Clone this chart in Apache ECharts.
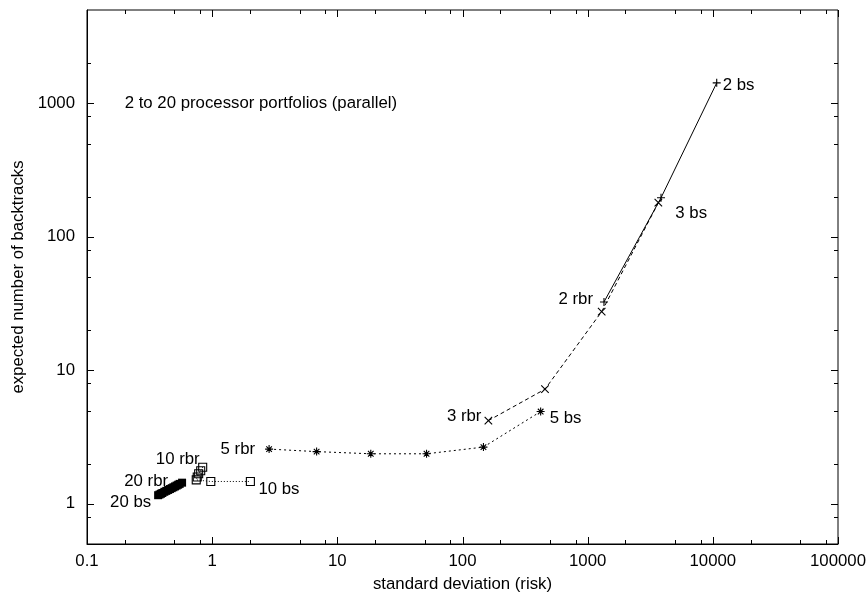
<!DOCTYPE html>
<html>
<head>
<meta charset="utf-8">
<title>Processor portfolios: risk vs. backtracks</title>
<script src="https://cdn.jsdelivr.net/npm/echarts@6/dist/echarts.min.js"></script>
<style>
  html, body { margin: 0; padding: 0; background: #fff; }
  #chart { width: 867px; height: 599px; }
</style>
</head>
<body>
<div id="chart"></div>
<script>
// ---- axis ranges and tick values ----
const X_MIN = 0.1, X_MAX = 100000;
const Y_MIN = 0.5, Y_MAX = 5000;
const X_MAJOR = [0.1, 1, 10, 100, 1000, 10000, 100000];
const X_TICK_LABELS = ['0.1', '1', '10', '100', '1000', '10000', '100000'];
const X_MINOR = [0.2, 0.5, 0.8, 2, 5, 8, 20, 50, 80, 200, 500, 800,
                 2000, 5000, 8000, 20000, 50000, 80000];
const Y_MAJOR = [1, 10, 100, 1000];
const Y_TICK_LABELS = ['1', '10', '100', '1000'];
const Y_MINOR = [0.8, 2, 5, 8, 20, 50, 80, 200, 500, 800, 2000];

// ---- portfolio curves: [standard deviation, expected backtracks], from "rbr" end to "bs" end ----
const p2 = [[1350, 32.5], [3855, 196], [10740, 1423]];
const p3 = [[161, 4.2], [456, 7.22], [1294, 27.5], [3670, 180]];
const p5 = [[2.85, 2.57], [6.83, 2.46], [18.5, 2.37], [51.6, 2.37], [147, 2.66], [421, 4.91]];
const p10 = [[0.84, 1.88], [0.81, 1.77], [0.78, 1.68], [0.76, 1.59], [0.746, 1.51],
             [0.975, 1.47], [2.02, 1.47]];
const p20 = [[0.575, 1.44], [0.55, 1.41], [0.535, 1.39], [0.52, 1.37], [0.505, 1.35],
             [0.49, 1.33], [0.475, 1.31], [0.46, 1.29], [0.445, 1.27], [0.43, 1.25],
             [0.415, 1.23], [0.40, 1.205], [0.39, 1.19], [0.38, 1.175], [0.37, 1.16]];
const endNames = {
  p2: ['2 rbr', '2 bs'], p3: ['3 rbr', '3 bs'], p5: ['5 rbr', '5 bs'],
  p10: ['10 rbr', '10 bs'], p20: ['20 rbr', '20 bs']
};
const TITLE_TEXT = '2 to 20 processor portfolios (parallel)';
const TITLE_AT = [0.2, 1000];

// ---- styling ----
const FONT = '"Liberation Sans", Arial, Helvetica, sans-serif';
const FS = 16.8;
const MAJOR_LEN = 7, MINOR_LEN = 4;

// end-label placement: [align, dx, dy] for the rbr end and the bs end
const endPlacement = {
  p2:  [['right', -11, -3], ['left', 6, 3]],
  p3:  [['right', -7, -4],  ['left', 17, 11]],
  p5:  [['right', -14, 0],  ['left', 9, 7]],
  p10: [['right', -3, -8],  ['left', 8, 8]],
  p20: [['right', -14, -1], ['right', -7, 7]]
};

function withEndLabels(values, key) {
  const last = values.length - 1;
  return values.map((v, i) => {
    if (i !== 0 && i !== last) return v;
    const k = i === 0 ? 0 : 1;
    const pl = endPlacement[key][k];
    return {
      value: v,
      label: {
        show: true, position: 'inside', formatter: endNames[key][k],
        align: pl[0], verticalAlign: 'middle', offset: [pl[1], pl[2]],
        color: '#000', opacity: 1, fontSize: FS, fontFamily: FONT, textBorderWidth: 0
      }
    };
  });
}

const PLUS = 'path://M0,5L10,5M5,0L5,10';
const CROSS = 'path://M0,0L10,10M0,10L10,0';
const STAR = 'path://M0,5L10,5M5,0L5,10M1.5,1.5L8.5,8.5M1.5,8.5L8.5,1.5';

function curve(name, values, key, symbol, size, dash, filled) {
  return {
    type: 'line', name: name, data: withEndLabels(values, key),
    symbol: symbol, symbolSize: size, showAllSymbol: true,
    lineStyle: { color: '#000', width: 1, type: dash },
    itemStyle: filled
      ? { color: '#000', borderColor: '#000', borderWidth: 0 }
      : { color: 'rgba(0,0,0,0)', borderColor: '#000', borderWidth: 1.1 },
    emphasis: { disabled: true }, silent: true, z: 3
  };
}

// tick marks drawn inward on both sides of the frame
function tickSeries(values, isX, len) {
  return {
    type: 'custom', silent: true, z: 4,
    data: values.map(v => isX ? [v, Y_MIN] : [X_MIN, v]),
    renderItem: function (params, api) {
      const v = api.value(isX ? 0 : 1);
      let a, b, lines;
      if (isX) {
        a = api.coord([v, Y_MIN]); b = api.coord([v, Y_MAX]);
        const x = Math.round(a[0]) + 0.5;
        lines = [[x, a[1], x, a[1] - len], [x, b[1], x, b[1] + len]];
      } else {
        a = api.coord([X_MIN, v]); b = api.coord([X_MAX, v]);
        const y = Math.round(a[1]) + 0.5;
        lines = [[a[0], y, a[0] + len, y], [b[0], y, b[0] - len, y]];
      }
      return {
        type: 'group',
        children: lines.map(l => ({
          type: 'line', shape: { x1: l[0], y1: l[1], x2: l[2], y2: l[3] },
          style: { stroke: '#000', lineWidth: 1 }
        }))
      };
    }
  };
}

function labelFrom(values, labels) {
  return function (v) {
    for (let i = 0; i < values.length; i++) {
      if (Math.abs(v - values[i]) <= values[i] * 1e-6) return labels[i];
    }
    return '';
  };
}

const chart = echarts.init(document.getElementById('chart'), null, { renderer: 'canvas' });
chart.setOption({
  animation: false,
  backgroundColor: '#fff',
  textStyle: { fontFamily: FONT },
  grid: {
    left: 87, right: 29, top: 10, bottom: 55,
    containLabel: false, outerBoundsMode: 'none',
    show: true, borderColor: '#000', borderWidth: 1, backgroundColor: 'transparent'
  },
  xAxis: {
    type: 'log', logBase: 10, min: X_MIN, max: X_MAX,
    name: 'standard deviation (risk)', nameLocation: 'middle', nameGap: 32,
    nameTextStyle: { color: '#000', fontSize: FS, fontFamily: FONT },
    axisLine: { show: true, onZero: false, lineStyle: { color: '#000', width: 1 } },
    axisTick: { show: false },
    splitLine: { show: false },
    axisLabel: {
      color: '#000', fontSize: FS, fontFamily: FONT, margin: 9,
      showMinLabel: true, showMaxLabel: true, hideOverlap: false,
      formatter: labelFrom(X_MAJOR, X_TICK_LABELS)
    }
  },
  yAxis: {
    type: 'log', logBase: 10, min: Y_MIN, max: Y_MAX,
    name: 'expected number of backtracks', nameLocation: 'middle', nameGap: 60,
    nameTextStyle: { color: '#000', fontSize: FS, fontFamily: FONT },
    axisLine: { show: true, onZero: false, lineStyle: { color: '#000', width: 1 } },
    axisTick: { show: false },
    splitLine: { show: false },
    axisLabel: {
      color: '#000', fontSize: FS, fontFamily: FONT, margin: 12,
      showMinLabel: true, showMaxLabel: true, hideOverlap: false,
      formatter: labelFrom(Y_MAJOR, Y_TICK_LABELS)
    }
  },
  series: [
    curve('2 processors', p2, 'p2', PLUS, 8, 'solid', false),
    curve('3 processors', p3, 'p3', CROSS, 7.5, [4, 3], false),
    curve('5 processors', p5, 'p5', STAR, 8, [2, 3], false),
    curve('10 processors', p10, 'p10', 'rect', 8, [1, 2], false),
    curve('20 processors', p20, 'p20', 'rect', 8, [6, 3, 1, 3], true),
    {
      type: 'scatter', name: 'caption', data: [TITLE_AT], symbolSize: 0, silent: true,
      itemStyle: { color: '#000' },
      label: {
        show: true, position: 'inside', formatter: TITLE_TEXT,
        align: 'left', verticalAlign: 'middle', opacity: 1,
        color: '#000', fontSize: FS, fontFamily: FONT, textBorderWidth: 0
      }
    },
    tickSeries(X_MAJOR, true, MAJOR_LEN),
    tickSeries(X_MINOR, true, MINOR_LEN),
    tickSeries(Y_MAJOR, false, MAJOR_LEN),
    tickSeries(Y_MINOR, false, MINOR_LEN)
  ]
});
</script>
</body>
</html>
